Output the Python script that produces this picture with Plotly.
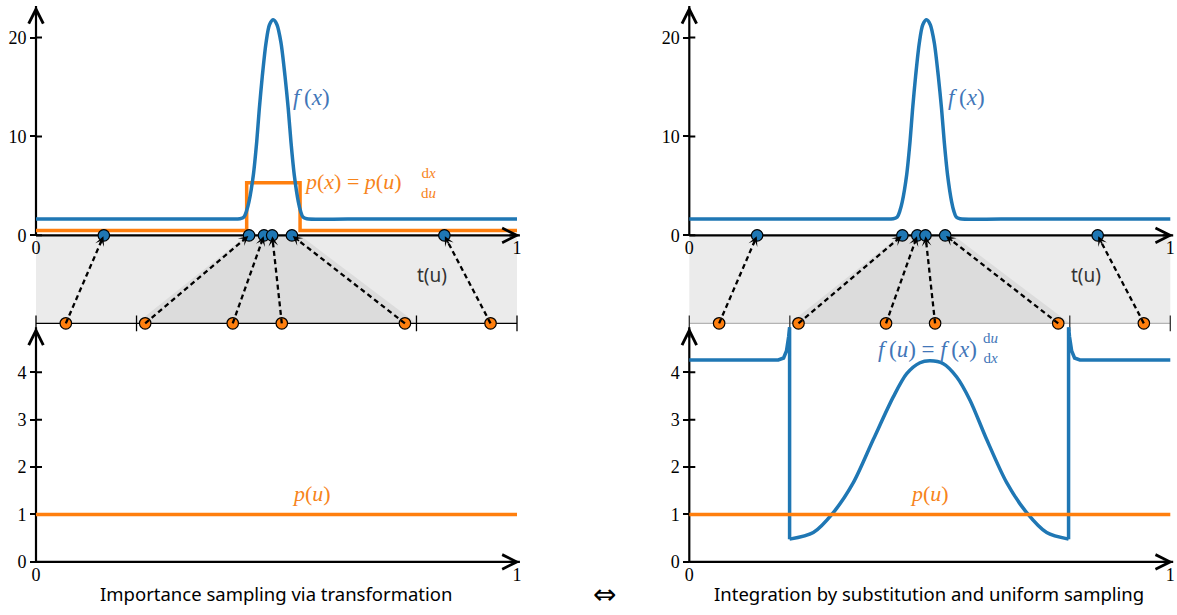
import math
import plotly.graph_objects as go

# ---------------- data ----------------
# integrand f(x) (top panels)
fx_x = [0.0, 0.40, 0.4241, 0.4324, 0.4376, 0.4428, 0.4518, 0.4588, 0.4642, 0.4705,
        0.4782, 0.4854, 0.4933, 0.5010, 0.5094, 0.5177, 0.5245, 0.5301, 0.5370,
        0.5453, 0.5500, 0.5550, 0.5628, 0.65, 1.0]
fx_y = [1.65, 1.65, 1.68, 1.85, 2.45, 3.41, 6.08, 9.43, 12.77, 16.1,
        19.46, 21.3, 21.8, 21.3, 19.46, 16.1, 12.77, 9.43, 6.08,
        3.41, 2.45, 1.85, 1.68, 1.65, 1.65]
# density p(x) (top-left, step function)
px_x = [0.0, 0.438, 0.549, 1.0]
px_y = [0.5, 5.32, 0.5, 0.5]
# uniform density p(u) (bottom panels)
pu_x = [0.0, 1.0]
pu_y = [1.0, 1.0]
# transformed integrand f(u) (bottom-right), three pieces
fu_left_x = [0.0, 0.185, 0.196, 0.202, 0.2065, 0.2085, 0.2085]
fu_left_y = [4.26, 4.26, 4.30, 4.45, 4.75, 4.95, 0.48]
fu_mid_x = [0.2085, 0.2578, 0.2994, 0.341, 0.3825, 0.4241, 0.452, 0.4796, 0.5004,
            0.5281, 0.5559, 0.5836, 0.6183, 0.6599, 0.7014, 0.743, 0.7885]
fu_mid_y = [0.48, 0.62, 1.04, 1.67, 2.58, 3.48, 3.97, 4.20, 4.24,
            4.18, 3.90, 3.41, 2.58, 1.67, 1.04, 0.62, 0.48]
fu_right_x = [0.7885, 0.7885, 0.7905, 0.795, 0.801, 0.812, 1.0]
fu_right_y = [0.48, 4.95, 4.75, 4.45, 4.30, 4.26, 4.26]
# samples: uniform u and transformed x = t(u)
u_samples = [0.062, 0.227, 0.409, 0.511, 0.767, 0.945]
x_samples = [0.141, 0.443, 0.474, 0.491, 0.532, 0.849]
# breakpoints of the piecewise-linear t(u)
u_breaks = [0.0, 0.209, 0.791, 1.0]
x_breaks = [0.0, 0.438, 0.549, 1.0]
# ticks
top_yticks = [0, 10, 20]
bot_yticks = [0, 1, 2, 3, 4]
x_ticks = [0, 1]

# ---------------- layout constants (pixels) ----------------
W, H = 1177, 615
PANEL_X0 = [36.0, 689.3]
PX_W = 481.0
XPAD_L, XPAD_R = 0.03, 0.012
TOP_Y0, TOP_SCALE, TOP_TIP_PX, U_LINE_PX, TOP_BOTTOM_PX, TOP_TOP_PX = 237.3, 9.97, 6.0, 326.0, 338.0, 2.0
BOT_Y0, BOT_SCALE, BOT_TIP_PX, BOT_TOP_PX, BOT_BOTTOM_PX = 566.5, 47.8, 330.0, 327.0, 572.0
X_TIP = 1.006

BLUE = "#1f77b4"
ORANGE = "#ff7f0e"
BLUE_TXT = "#4276b8"
ORANGE_TXT = "#f7841b"
SERIF = "'Liberation Serif', 'DejaVu Serif', 'Noto Serif', serif"
SANS = "'Noto Sans', 'Open Sans', sans-serif"
THIN = "\u2009"


def pyf(p):
    return 1 - p / H


U_LINE = (TOP_Y0 - U_LINE_PX) / TOP_SCALE
TOP_TIP = (TOP_Y0 - TOP_TIP_PX) / TOP_SCALE
BOT_TIP = (BOT_Y0 - BOT_TIP_PX) / BOT_SCALE
UTICK = 8.0 / TOP_SCALE
YTICK = 6.0 / PX_W

fig = go.Figure()

layout_axes = {}
shapes = []
annotations = []

for i, x0 in enumerate(PANEL_X0):
    tx = "x" if i == 0 else "x3"
    ty = "y" if i == 0 else "y3"
    bx = "x2" if i == 0 else "x4"
    by = "y2" if i == 0 else "y4"
    xdom = [(x0 - XPAD_L * PX_W) / W, min(1.0, (x0 + (1 + XPAD_R) * PX_W) / W)]
    xpos = x0 / W
    tick_font = dict(family=SERIF, size=18, color="black")
    for name, pos in ((tx, TOP_Y0), (bx, BOT_Y0)):
        key = "xaxis" if name == "x" else "xaxis" + name[1:]
        layout_axes[key] = dict(domain=xdom, range=[-XPAD_L, 1 + XPAD_R], anchor="free",
                                position=pyf(pos), tickvals=x_ticks,
                                ticktext=[str(t) for t in x_ticks], ticks="",
                                showgrid=False, zeroline=False, showline=False,
                                tickfont=tick_font, fixedrange=True)
    ykey_t = "yaxis" if ty == "y" else "yaxis" + ty[1:]
    ykey_b = "yaxis" + by[1:]
    layout_axes[ykey_t] = dict(domain=[pyf(TOP_BOTTOM_PX), pyf(TOP_TOP_PX)],
                               range=[(TOP_Y0 - TOP_BOTTOM_PX) / TOP_SCALE, (TOP_Y0 - TOP_TOP_PX) / TOP_SCALE],
                               anchor="free", position=xpos, tickvals=top_yticks,
                               ticktext=[str(t) for t in top_yticks], ticks="outside",
                               ticklen=6, tickwidth=2, tickcolor="black",
                               showgrid=False, zeroline=False, showline=False,
                               tickfont=tick_font, fixedrange=True)
    layout_axes[ykey_b] = dict(domain=[pyf(BOT_BOTTOM_PX), pyf(BOT_TOP_PX)],
                               range=[(BOT_Y0 - BOT_BOTTOM_PX) / BOT_SCALE, (BOT_Y0 - BOT_TOP_PX) / BOT_SCALE],
                               anchor="free", position=xpos, tickvals=bot_yticks,
                               ticktext=[str(t) for t in bot_yticks], ticks="outside",
                               ticklen=6, tickwidth=2, tickcolor="black",
                               showgrid=False, zeroline=False, showline=False,
                               tickfont=tick_font, fixedrange=True)

    # ---- band between u-axis and x-axis ----
    shapes.append(dict(type="rect", xref=tx, yref=ty, x0=0, x1=1, y0=U_LINE, y1=0,
                       fillcolor="#ebebeb", line=dict(width=0), layer="below"))
    trap = "M {a},{U} L {b},{U} L {c},0 L {d},0 Z".format(
        a=u_breaks[1], b=u_breaks[2], c=x_breaks[2], d=x_breaks[1], U=U_LINE)
    shapes.append(dict(type="path", xref=tx, yref=ty, path=trap,
                       fillcolor="#dcdcdc", line=dict(width=0), layer="below"))
    ucol = "black" if i == 0 else "#b4b4b4"
    shapes.append(dict(type="line", xref=tx, yref=ty, x0=0, x1=1, y0=U_LINE, y1=U_LINE,
                       line=dict(color=ucol, width=1.3), layer="below"))
    for ub in u_breaks:
        shapes.append(dict(type="line", xref=tx, yref=ty, x0=ub, x1=ub,
                           y0=U_LINE - UTICK, y1=U_LINE + UTICK,
                           line=dict(color="black" if i == 0 else "#333333", width=1.3), layer="below"))

    # ---- axis lines ----
    for ax_x, ax_y, tip in ((tx, ty, TOP_TIP), (bx, by, BOT_TIP)):
        shapes.append(dict(type="line", xref=ax_x, yref=ax_y, x0=0, x1=X_TIP, y0=0, y1=0,
                           line=dict(color="black", width=2.2), layer="below"))
        shapes.append(dict(type="line", xref=ax_x, yref=ax_y, x0=0, x1=0, y0=0, y1=tip,
                           line=dict(color="black", width=2.2), layer="below"))
        annotations.append(dict(xref=ax_x, yref=ax_y, x=X_TIP, y=0, ax=-12, ay=0, text="",
                                showarrow=True, arrowhead=5, arrowsize=1.3, arrowwidth=2.2,
                                arrowcolor="black"))
        annotations.append(dict(xref=ax_x, yref=ax_y, x=0, y=tip, ax=0, ay=12, text="",
                                showarrow=True, arrowhead=5, arrowsize=1.3, arrowwidth=2.2,
                                arrowcolor="black"))
    for t in top_yticks:
        shapes.append(dict(type="line", xref=tx, yref=ty, x0=0, x1=YTICK, y0=t, y1=t,
                           line=dict(color="black", width=2), layer="below"))
    for t in bot_yticks:
        shapes.append(dict(type="line", xref=bx, yref=by, x0=0, x1=YTICK, y0=t, y1=t,
                           line=dict(color="black", width=2), layer="below"))

    # ---- traces ----
    fig.add_trace(go.Scatter(x=u_samples, y=[U_LINE] * len(u_samples), xaxis=tx, yaxis=ty,
                             mode="markers", cliponaxis=False,
                             marker=dict(color=ORANGE, size=11.5, line=dict(color="black", width=1.2))))
    dx, dy = [], []
    for u, xv in zip(u_samples, x_samples):
        dx += [u, xv, None]
        dy += [U_LINE, 0, None]
    fig.add_trace(go.Scatter(x=dx, y=dy, xaxis=tx, yaxis=ty, mode="lines",
                             line=dict(color="black", width=2.3, dash="5px,3.5px")))
    if i == 0:
        fig.add_trace(go.Scatter(x=px_x, y=px_y, xaxis=tx, yaxis=ty, mode="lines",
                                 line=dict(color=ORANGE, width=3.5, shape="hv")))
    fig.add_trace(go.Scatter(x=fx_x, y=fx_y, xaxis=tx, yaxis=ty, mode="lines",
                             line=dict(color=BLUE, width=3.5, shape="spline", smoothing=0.8)))
    fig.add_trace(go.Scatter(x=x_samples, y=[0] * len(x_samples), xaxis=tx, yaxis=ty,
                             mode="markers", cliponaxis=False,
                             marker=dict(color=BLUE, size=11.5, line=dict(color="black", width=1.2))))
    for u, xv in zip(u_samples, x_samples):
        dxp = (u - xv) * PX_W
        dyp = U_LINE_PX - TOP_Y0
        L = math.hypot(dxp, dyp)
        annotations.append(dict(xref=tx, yref=ty, x=xv, y=0, ax=dxp / L * 11, ay=dyp / L * 11,
                                text="", showarrow=True, arrowhead=3, arrowsize=1.0,
                                arrowwidth=1.6, arrowcolor="black", standoff=1))

    if i == 1:
        fig.add_trace(go.Scatter(x=fu_left_x, y=fu_left_y, xaxis=bx, yaxis=by, mode="lines",
                                 line=dict(color=BLUE, width=3.5)))
        fig.add_trace(go.Scatter(x=fu_mid_x, y=fu_mid_y, xaxis=bx, yaxis=by, mode="lines",
                                 line=dict(color=BLUE, width=3.5, shape="spline", smoothing=0.8)))
        fig.add_trace(go.Scatter(x=fu_right_x, y=fu_right_y, xaxis=bx, yaxis=by, mode="lines",
                                 line=dict(color=BLUE, width=3.5)))
    fig.add_trace(go.Scatter(x=pu_x, y=pu_y, xaxis=bx, yaxis=by, mode="lines",
                             line=dict(color=ORANGE, width=3.5)))


def label(px, pyy, text, color, size, family=SERIF, xanchor="center"):
    annotations.append(dict(xref="paper", yref="paper", x=px / W, y=pyf(pyy), text=text,
                            showarrow=False, xanchor=xanchor, yanchor="middle",
                            font=dict(family=family, size=size, color=color)))


F_X = "<i>f</i>" + THIN + "(<i>x</i>)"
F_U = "<i>f</i>" + THIN + "(<i>u</i>)"
P_X = "<i>p</i>(<i>x</i>)"
P_U = "<i>p</i>(<i>u</i>)"

# top-left labels
label(311, 98, F_X, BLUE_TXT, 23)
label(403, 183, P_X + " = " + P_U, ORANGE_TXT, 22, xanchor="right")
label(428, 185, "d<i>x</i><br>d<i>u</i>", ORANGE_TXT, 15)
label(432, 277, "t(u)", "#333333", 19, family=SANS)
label(311, 498, P_U, ORANGE_TXT, 22)
# right labels
label(967, 98, F_X, BLUE_TXT, 23)
label(1086, 277, "t(u)", "#333333", 19, family=SANS)
label(979, 352, F_U + " = " + F_X, BLUE_TXT, 23, xanchor="right")
label(990, 351, "d<i>u</i><br>d<i>x</i>", BLUE_TXT, 15)
label(929, 498, P_U, ORANGE_TXT, 22)
# captions
label(276, 598, "Importance sampling via transformation", "black", 18.5, family=SANS)
label(605, 599, "⇔", "black", 28, family="'DejaVu Sans', sans-serif")
label(929, 598, "Integration by substitution and uniform sampling", "black", 18.5, family=SANS)

fig.update_layout(width=W, height=H, margin=dict(l=0, r=0, t=0, b=0), autosize=False,
                  paper_bgcolor="white", plot_bgcolor="rgba(0,0,0,0)", showlegend=False,
                  shapes=shapes, annotations=annotations, **layout_axes)

fig.write_html("out.html")
